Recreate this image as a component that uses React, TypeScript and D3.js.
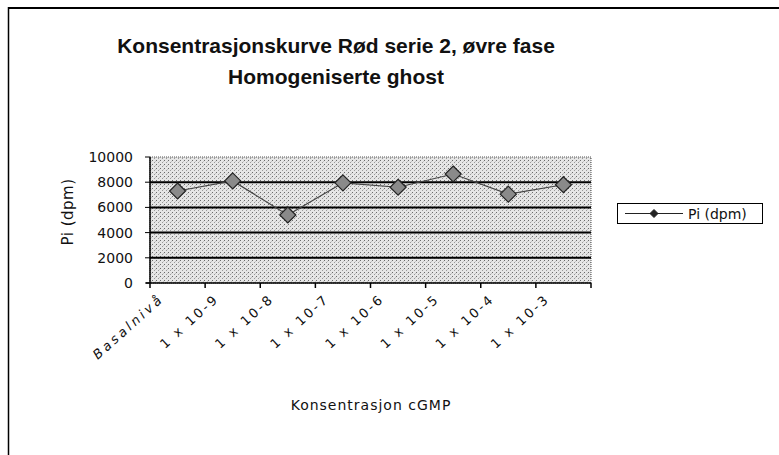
import React from "react";
import * as d3 from "d3";

const categories = ["Basalnivå", "1 x 10-9", "1 x 10-8", "1 x 10-7", "1 x 10-6", "1 x 10-5", "1 x 10-4", "1 x 10-3"];
const piValues = [7300, 8100, 5400, 7950, 7600, 8650, 7050, 7800];
const yTicks = [0, 2000, 4000, 6000, 8000, 10000];
const titleLines = ["Konsentrasjonskurve Rød serie 2, øvre fase", "Homogeniserte ghost"];
const seriesName = "Pi (dpm)";
const xTitle = "Konsentrasjon cGMP";

export default function App() {
  const W = 779, H = 455;
  const left = 150, right = 591, top = 157, bottom = 283;
  const x = d3.scaleBand<string>().domain(categories).range([left, right]);
  const y = d3.scaleLinear().domain([0, 10000]).range([bottom, top]);
  const line = d3.line<number>().x((_, i) => (x(categories[i]) as number) + x.bandwidth() / 2).y((d) => y(d));
  const diamond = (cx: number, cy: number, r: number) => `M${cx},${cy - r}L${cx + r},${cy}L${cx},${cy + r}L${cx - r},${cy}Z`;
  const font = "'DejaVu Sans', Arial, sans-serif";
  const boundaries = [...categories.map((c) => x(c) as number), right];
  return (
    <svg width={W} height={H} style={{ position: "absolute", left: 0, top: 0 }} xmlns="http://www.w3.org/2000/svg">
      <defs>
        <pattern id="stip" width="4" height="4" patternUnits="userSpaceOnUse">
          <rect width="4" height="4" fill="#e6e6e6" />
          <rect x="0" y="0" width="1" height="1" fill="#6a6a6a" />
          <rect x="2" y="2" width="1" height="1" fill="#9a9a9a" />
          <rect x="3" y="1" width="1" height="1" fill="#c4c4c4" />
        </pattern>
      </defs>
      <rect width={W} height={H} fill="#fff" />
      <line x1={8} y1={8} x2={W} y2={8} stroke="#000" strokeWidth={2} />
      <line x1={8.5} y1={7} x2={8.5} y2={H} stroke="#000" strokeWidth={1.5} />
      {titleLines.map((t, i) => (
        <text key={i} x={336} y={53 + i * 31} textAnchor="middle" fontFamily="'Liberation Sans Narrow', 'Liberation Sans', Arial" fontWeight="bold" fontSize={21} fill="#111">{t}</text>
      ))}
      <rect x={left} y={top} width={right - left} height={bottom - top} fill="url(#stip)" stroke="#555" strokeWidth={1} strokeDasharray="1 1" />
      {yTicks.filter((t) => t > 0 && t < 10000).map((t) => (
        <line key={t} x1={left} x2={right} y1={y(t)} y2={y(t)} stroke="#000" strokeWidth={2} />
      ))}
      <line x1={left} x2={left} y1={top} y2={bottom} stroke="#000" strokeWidth={1.5} />
      <line x1={left - 4} x2={right} y1={bottom} y2={bottom} stroke="#000" strokeWidth={1.5} />
      {yTicks.map((t) => (
        <g key={t}>
          <line x1={left - 5} x2={left} y1={y(t)} y2={y(t)} stroke="#000" />
          <text x={left - 17} y={y(t) + 5} textAnchor="end" fontFamily={font} fontSize={14} fill="#111">{t}</text>
        </g>
      ))}
      {boundaries.map((b, i) => (
        <line key={i} x1={b} x2={b} y1={bottom} y2={bottom + 5} stroke="#000" strokeWidth={1.5} />
      ))}
      {categories.map((c, i) => {
        const cx = (x(c) as number) + x.bandwidth() / 2 - 13;
        const cy = bottom + 17;
        return (
          <text key={c} x={cx} y={cy} textAnchor="end" transform={`rotate(-42 ${cx} ${cy})`} fontFamily={font} fontSize={13} letterSpacing={i === 0 ? 3 : 2.5} fontStyle={i === 0 ? "italic" : "normal"} fill="#111">{c}</text>
        );
      })}
      <text transform={`translate(73 212) rotate(-90)`} textAnchor="middle" fontFamily={font} fontSize={15} letterSpacing={0.5} fill="#111">{seriesName}</text>
      <text x={371} y={410} textAnchor="middle" fontFamily={font} fontSize={14} letterSpacing={1} fill="#111">{xTitle}</text>
      <path d={line(piValues) as string} fill="none" stroke="#444" strokeWidth={1.2} />
      {piValues.map((v, i) => {
        const cx = (x(categories[i]) as number) + x.bandwidth() / 2;
        return <path key={i} d={diamond(cx, y(v), 8)} fill="#8a8a8a" stroke="#222" strokeWidth={1.2} />;
      })}
      <rect x={617.5} y={203.5} width={145} height={20} fill="#fff" stroke="#000" strokeWidth={1} />
      <line x1={625} x2={683} y1={213.5} y2={213.5} stroke="#222" strokeWidth={1.2} />
      <path d={diamond(654, 213.5, 4)} fill="#222" stroke="#222" />
      <text x={688} y={218.5} fontFamily={font} fontSize={14} fill="#111">{seriesName}</text>
    </svg>
  );
}
